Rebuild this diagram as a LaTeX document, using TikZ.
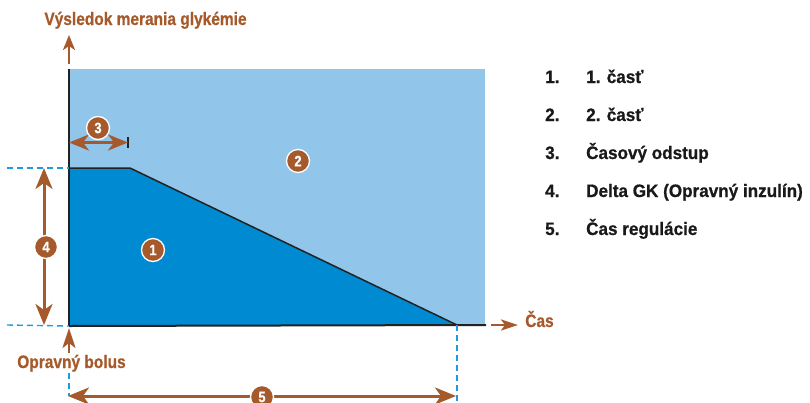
\documentclass[tikz,border=0pt]{standalone}
\usepackage{fontspec}
\setmainfont{Liberation Sans}[FakeStretch=0.86,BoldFeatures={FakeBold=0.7}]
\newfontfamily\legfont{Liberation Sans}[FakeStretch=0.95,BoldFeatures={FakeBold=0.7}]
\usetikzlibrary{arrows.meta}
\definecolor{brn}{HTML}{A65A2B}
\definecolor{lblue}{HTML}{92C5EA}
\definecolor{dblue}{HTML}{008AD1}
\definecolor{dashblue}{HTML}{1C9BE0}
\definecolor{axisdark}{HTML}{222222}
\begin{document}
\begin{tikzpicture}[x=1pt,y=-1pt,
  lbl/.style={text=brn,font=\fontsize{18}{20}\selectfont\bfseries,inner sep=0pt},
  legnum/.style={text=black!90,font=\legfont\fontsize{18}{20}\selectfont\bfseries,inner sep=0pt,anchor=base west},
  badge/.style={circle,fill=brn,draw=white,line width=1.3pt,minimum size=23pt,inner sep=0pt,text=white,font=\fontsize{15}{16}\selectfont\bfseries},
  bigarrow/.style={draw=brn,line width=3pt},
  guide/.style={draw=dashblue,line width=1.4pt,dash pattern=on 6pt off 4pt},
  axisline/.style={draw=axisdark,line width=2pt}]
\useasboundingbox (0,0) rectangle (810,402);
% areas
\fill[lblue] (69,69) rectangle (485,325);
\fill[dblue] (69,168) -- (130,168) -- (457,325) -- (69,325) -- cycle;
\coordinate (topL) at (69,168);
\coordinate (knee) at (130,168);
\coordinate (end) at (457,325);
\draw[axisdark,line width=1.5pt] (topL) -- (knee) -- (end);
% axes
\coordinate (o) at (69,326);
\coordinate (ytop) at (69,69);
\coordinate (xend) at (486,325);
\draw[axisline] (ytop) -- (o);
\draw[axisline] (o) -- (xend);
% guides
\coordinate (g1a) at (7,168);
\coordinate (g2a) at (7,325);
\coordinate (g3a) at (69,373);
\coordinate (g3b) at (69,396);
\coordinate (g4b) at (457,402);
\draw[guide] (g1a) -- (topL);
\draw[guide] (g2a) -- (o);
\draw[guide] (g3a) -- (g3b);
\draw[guide] (end) -- (g4b);
% axis labels
\node[lbl,anchor=base] (ylab) at (145.5,25) {Výsledok merania glykémie};
\coordinate (yarrS) at (69,64);
\coordinate (yarrE) at (69,35);
\draw[bigarrow,line width=2.6pt,-{Stealth[length=15pt,width=12pt,inset=4pt]}] (yarrS) -- (yarrE);
\node[lbl,anchor=base] (xlab) at (539.5,327) {Čas};
\coordinate (xarrS) at (491,325);
\coordinate (xarrE) at (518,325);
\draw[bigarrow,line width=2.6pt,-{Stealth[length=17pt,width=11pt,inset=4pt]}] (xarrS) -- (xarrE);
\node[lbl,anchor=base] (blab) at (71.5,368) {Opravný bolus};
\coordinate (barrS) at (69,353);
\coordinate (barrE) at (69,328);
\draw[bigarrow,line width=2.6pt,-{Stealth[length=20pt,width=13pt,inset=5pt]}] (barrS) -- (barrE);
% dimension 3
\coordinate (d3a) at (69,142.5);
\coordinate (d3b) at (128,142.5);
\coordinate (t3a) at (128,137);
\coordinate (t3b) at (128,148);
\draw[axisdark,line width=2pt] (t3a) -- (t3b);
\draw[bigarrow,{Stealth[length=20pt,width=16pt,inset=6pt]}-{Stealth[length=20pt,width=16pt,inset=6pt]}] (d3a) -- (d3b);
\node[badge] (b3) at (98,128) {3};
% dimension 4
\coordinate (d4a) at (44,168);
\coordinate (d4b) at (44,325);
\draw[bigarrow,{Stealth[length=21pt,width=17pt,inset=6pt]}-{Stealth[length=21pt,width=17pt,inset=6pt]}] (d4a) -- (d4b);
\node[badge] (b4) at (46,247) {4};
% dimension 5
\coordinate (d5a) at (68,396);
\coordinate (d5b) at (456,396);
\draw[bigarrow,{Stealth[length=21pt,width=17pt,inset=6pt]}-{Stealth[length=21pt,width=17pt,inset=6pt]}] (d5a) -- (d5b);
\node[badge] (b5) at (262,397) {5};
% area badges
\node[badge] (b1) at (153,250) {1};
\node[badge] (b2) at (298,161) {2};
% legend
\node[legnum] (n1) at (545,83) {1.};
\node[legnum] (l1) at (586,83) {1. časť};
\node[legnum] (n2) at (545,121) {2.};
\node[legnum] (l2) at (586,121) {2. časť};
\node[legnum] (n3) at (545,159) {3.};
\node[legnum] (l3) at (586,159) {Časový odstup};
\node[legnum] (n4) at (545,197) {4.};
\node[legnum] (l4) at (586,197) {Delta GK (Opravný inzulín)};
\node[legnum] (n5) at (545,235) {5.};
\node[legnum] (l5) at (586,235) {Čas regulácie};
\end{tikzpicture}
\end{document}
